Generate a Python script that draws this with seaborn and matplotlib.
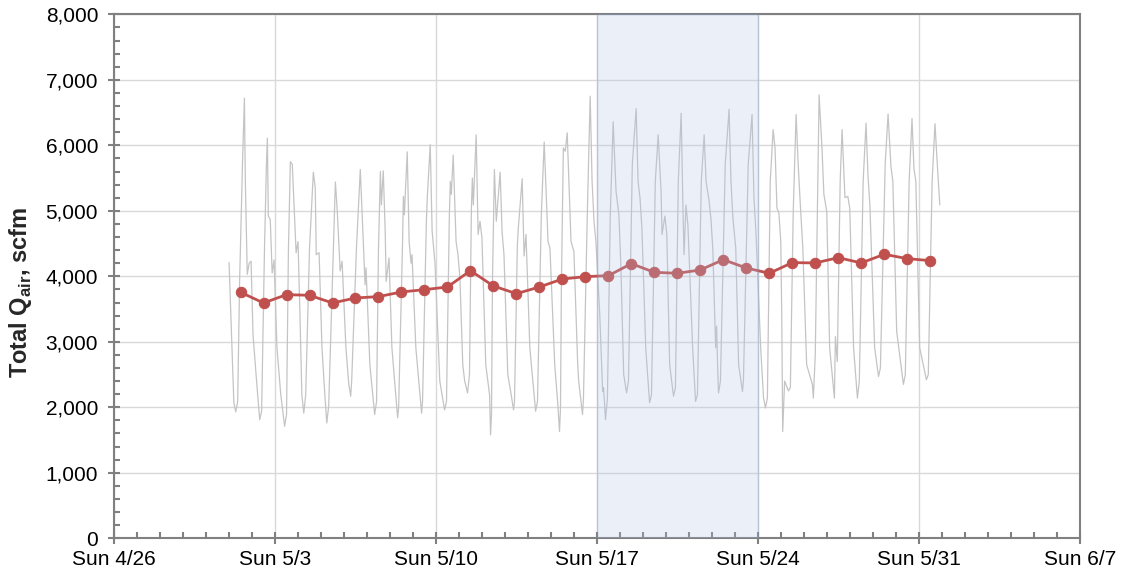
import pandas as pd
import matplotlib
matplotlib.use("Agg")
import matplotlib.pyplot as plt
import matplotlib.dates as mdates
from matplotlib.ticker import FuncFormatter, MultipleLocator
import seaborn as sns

# hourly air flow at its turning points (hours after 5/1 00:00)
hourly_hours = [
    0, 5, 7, 9, 11, 14, 16, 17, 19, 21, 23, 25, 29, 32, 34, 37, 39, 40, 41, 43, 45, 47,
    50, 54, 58, 60, 62, 64, 66, 69, 70, 72, 74, 76, 78, 80, 84, 88, 90, 91, 94, 97, 100,
    102, 104, 109, 111, 113, 116, 118,
    122, 125, 127, 128, 133, 137, 139, 142, 143, 147, 152, 154, 156, 158, 159, 161, 163,
    164, 167, 170, 176, 177, 181, 182, 183, 186, 188, 190, 191, 195, 201, 202, 206, 207,
    210, 212, 215, 220, 225, 227, 230, 231, 232, 234, 237, 239, 241,
    244, 246, 249, 251, 253, 254, 255, 258, 260, 262, 264, 268, 272, 273, 274, 275, 277,
    279, 283, 285, 287, 291, 294, 297, 298, 301, 302, 306, 308, 310, 314, 320, 322, 326,
    329, 332, 333, 335, 340, 343, 345, 346, 347, 349, 351, 353, 356, 357, 360, 364,
    365, 369, 370, 374, 377, 379, 381, 383, 387, 390, 391, 393, 395, 398, 401, 404, 407,
    409, 412, 415, 417, 421, 425, 427, 429, 431, 435, 439, 441, 445, 448, 451, 452, 455,
    457, 460, 464, 466, 469, 472, 474, 475, 477, 479, 484, 487,
    489, 493, 496, 498, 501, 503, 505, 508, 509, 510, 511, 513, 518, 522, 524, 526, 529,
    532, 536, 537, 542, 546, 548, 550, 555, 558, 560, 562, 565, 568, 570, 572, 574, 576,
    577, 578, 580, 584, 586, 589, 592, 594, 596, 599, 603, 609, 610,
    612, 616, 619, 621, 624, 627, 632, 633, 635, 638, 640, 643, 646, 648, 652, 656, 658,
    662, 665, 667, 669, 674, 678, 680, 685, 688, 691, 693, 697, 704, 706, 710, 713, 715,
    717, 721, 728, 730, 734, 737, 739, 742,
]
hourly_qair = [
    4210, 2070, 1930, 2090, 3920, 5700, 6720, 5450, 4030, 4200, 4230, 3110, 2350, 1810, 1940, 4430, 5700, 6110, 4920, 4870, 4050, 4250,
    2910, 2190, 1710, 1890, 4430, 5750, 5710, 4690, 4360, 4530, 3420, 2190, 1910, 2190, 4430, 5590, 5350, 4330, 4360, 2910, 2190,
    1760, 2020, 4430, 5440, 4990, 4080, 4230,
    2910, 2350, 2170, 2400, 4430, 5630, 4940, 3870, 4130, 2650, 1890, 2090, 4430, 5600, 5090, 5610, 4690,
    3920, 4280, 2910, 1840, 1990, 4430, 5220, 4940, 5900, 4530, 4200, 4330, 2910, 1910, 2090, 4840, 5220,
    6010, 4690, 4200, 2400, 1960, 2090, 4940, 5450, 5250, 5850, 4530, 4330, 3980,
    2650, 2400, 2220, 2500, 5040, 5500, 5090, 6160, 4640, 4840, 4590, 2650, 2190, 1580, 1890, 3920, 5630,
    4840, 5590, 4690, 4330, 2500, 2240, 1960, 2090, 4480, 4740, 5490, 4310, 4640, 2910, 1940, 2090, 4940,
    6050, 4940, 4530, 4430, 2650, 2090, 1630, 1990, 3920, 5960, 5910, 6190, 4940, 4530, 4380, 2650,
    2400, 1890, 2140, 4940, 6750, 5450, 4840, 4530, 3420, 2240, 2300, 1810, 2140, 4940, 6360, 5300, 4940,
    4180, 2500, 2220, 2400, 5710, 6560, 5450, 5200, 4740, 2910, 2070, 2190, 5450, 6160, 5300, 4640, 4920,
    4640, 2650, 2170, 2300, 5450, 6490, 4940, 4330, 5090, 4790, 2910, 2090,
    2190, 5450, 6160, 5450, 5170, 4890, 4430, 2910, 3240, 2650, 2220, 2400, 5710, 6550, 5450, 4890, 4430,
    2650, 2240, 2400, 5710, 6470, 5200, 4690, 2910, 2140, 1990, 2140, 5450, 6240, 5960, 5040, 4970, 4530,
    3420, 1630, 2400, 2250, 2300, 5000, 6470, 5760, 5200, 4430, 2650, 2350, 2140,
    2800, 6770, 5960, 5250, 4990, 2910, 2140, 3080, 2700, 5450, 6240, 5200, 5220, 5040, 2910, 2140, 2400,
    5450, 6340, 5550, 5090, 2910, 2470, 2600, 5710, 6480, 5680, 5450, 3160, 2350, 2500, 5450, 6410, 5650,
    5450, 2910, 2420, 2500, 5450, 6330, 5810, 5090,
]

# daily averages, plotted at noon of each day 5/1 .. 5/31
daily_days = pd.date_range("2020-05-01 12:00", "2020-05-31 12:00", freq="D")
daily_qair = [
    3756, 3593, 3720, 3710, 3593, 3669, 3690, 3761, 3796, 3837, 4086, 3852, 3735, 3837, 3959, 3995,
    4010, 4193, 4061, 4046, 4097, 4254, 4127, 4046, 4209, 4204, 4285, 4204, 4336, 4270, 4239,
]

start = pd.Timestamp("2020-05-01")
hourly = pd.DataFrame({"time": start + pd.to_timedelta(hourly_hours, unit="h"), "qair": hourly_qair})
daily = pd.DataFrame({"time": daily_days, "qair": daily_qair})

sns.set_theme(style="white")
plt.rcParams["font.family"] = ["Liberation Sans", "DejaVu Sans"]
plt.rcParams["mathtext.fontset"] = "custom"
plt.rcParams["mathtext.rm"] = "Liberation Sans"
plt.rcParams["mathtext.bf"] = "Liberation Sans:bold"

fig = plt.figure(figsize=(11.21, 5.82), dpi=100)
ax = fig.add_axes([0.1018, 0.0751, 0.8613, 0.9003])

sns.lineplot(data=hourly, x="time", y="qair", color="#C4C4C4", linewidth=0.9, ax=ax, zorder=2)
sns.lineplot(data=daily, x="time", y="qair", color="#C0504D", linewidth=2, marker="o",
             markersize=7.5, markeredgecolor="#C0504D", ax=ax, zorder=3)

# highlighted week, drawn on top like the original
ax.axvspan(pd.Timestamp("2020-05-17"), pd.Timestamp("2020-05-24"), facecolor="#AFC3E7",
           edgecolor="#6F8FC8", linewidth=1, alpha=0.25, zorder=4)

ax.set_xlim(pd.Timestamp("2020-04-26"), pd.Timestamp("2020-06-07"))
ax.set_ylim(0, 8000)

ax.xaxis.set_major_locator(mdates.WeekdayLocator(byweekday=mdates.SU))
ax.xaxis.set_minor_locator(mdates.DayLocator())


def fmt_day(x, pos):
    d = mdates.num2date(x)
    return f"{d:%a} {d.month}/{d.day}"


ax.xaxis.set_major_formatter(FuncFormatter(fmt_day))
ax.yaxis.set_major_locator(MultipleLocator(1000))
ax.yaxis.set_minor_locator(MultipleLocator(200))
ax.yaxis.set_major_formatter(FuncFormatter(lambda v, pos: f"{v:,.0f}"))

ax.grid(True, which="major", color="#D9D9D9", linewidth=1)
ax.set_axisbelow(True)

ax.tick_params(which="both", bottom=True, left=True, top=False, right=False, color="#808080", width=1.5)
ax.tick_params(which="major", direction="inout", length=9, labelsize=15, labelcolor="black")
ax.tick_params(axis="x", which="major", pad=4)
ax.tick_params(axis="y", which="major", pad=7)
ax.tick_params(which="minor", direction="in", length=4)

for s in ax.spines.values():
    s.set_color("#808080")
    s.set_linewidth(1.5)

ax.set_xlabel("")
ax.set_ylabel(r"Total Q$_{\mathbf{air}}$, scfm", fontsize=17, fontweight="bold")
ax.yaxis.set_label_coords(-0.083, 0.47)

fig.savefig("out.png", dpi=100)
